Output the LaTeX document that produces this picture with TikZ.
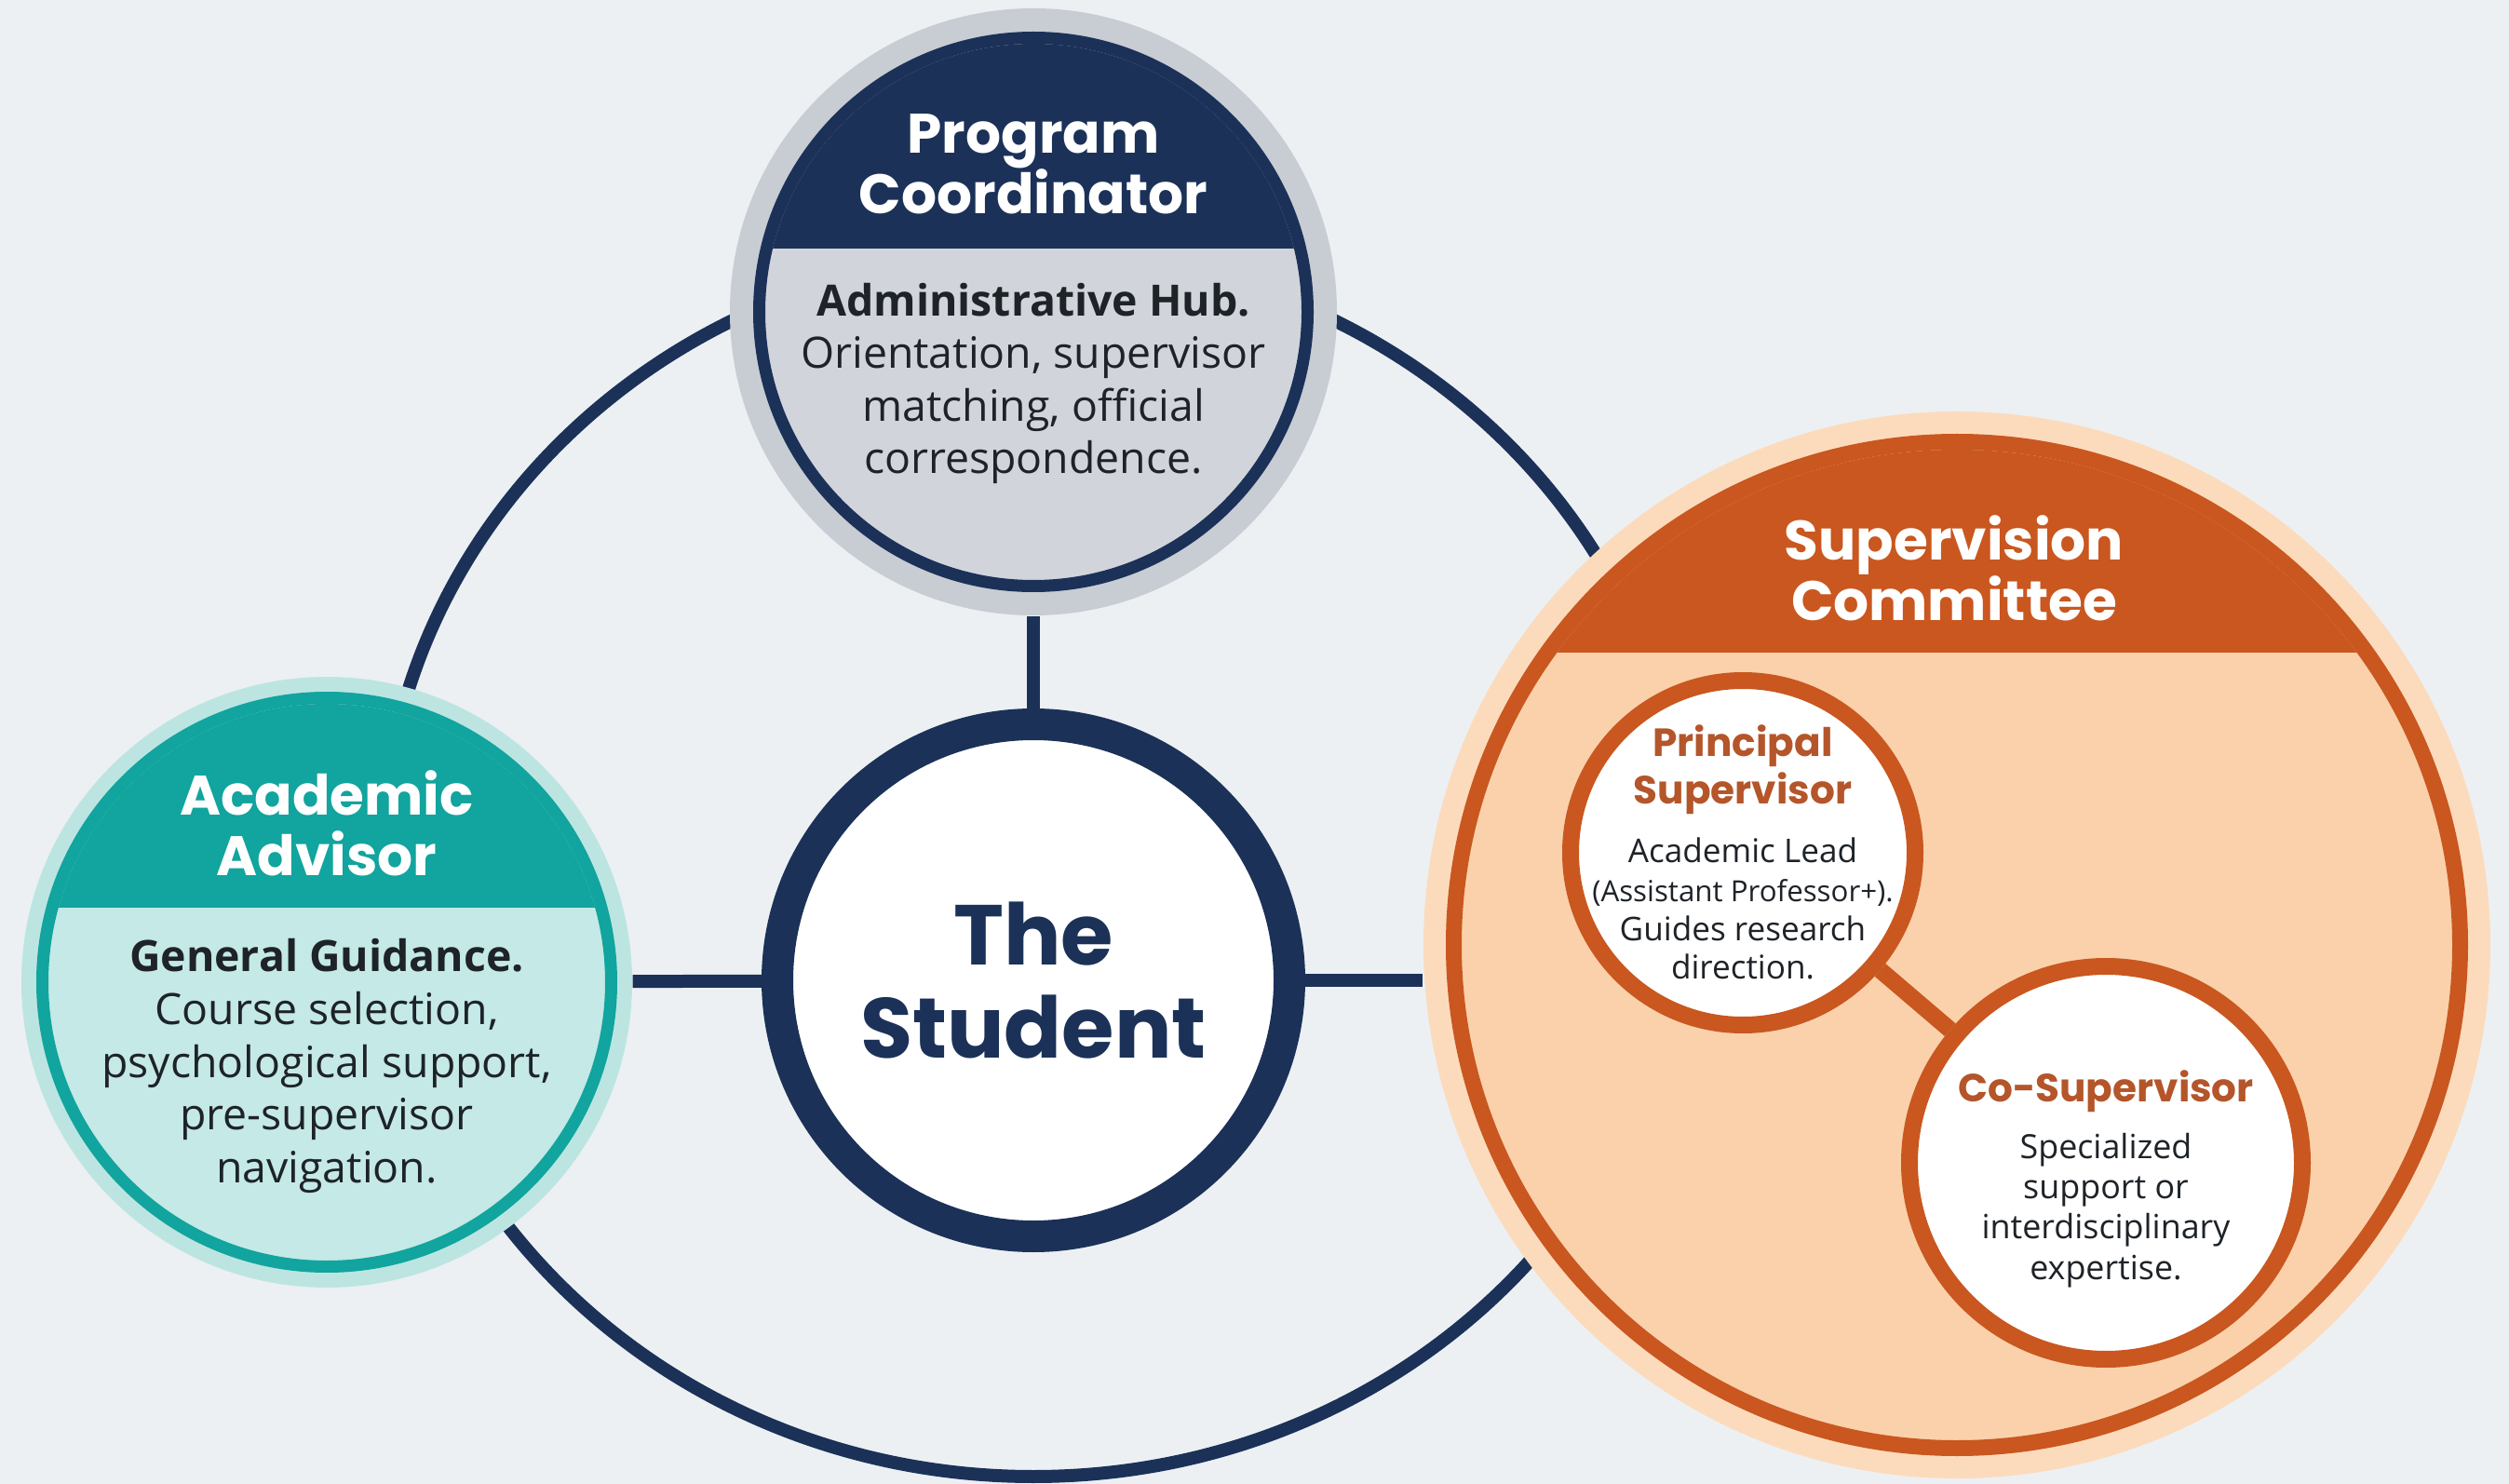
\documentclass[tikz,border=0pt]{standalone}
\usepackage{fontspec}
\setmainfont{Open Sans}
\newfontfamily\headfont{Poppins}

\definecolor{bg}{HTML}{ECF0F3}
\definecolor{navy}{HTML}{1B3158}
\definecolor{pcgray}{HTML}{D1D5DB}
\definecolor{pchalo}{HTML}{C8CCD3}
\definecolor{teal}{HTML}{12A49E}
\definecolor{teallight}{HTML}{C4E9E6}
\definecolor{tealhalo}{HTML}{BCE5E2}
\definecolor{rust}{HTML}{C9571F}
\definecolor{peach}{HTML}{FAD1AB}
\definecolor{peachhalo}{HTML}{FCDBBC}
\definecolor{rusttext}{HTML}{B4552A}
\definecolor{ink}{HTML}{1E2328}

\begin{document}
\begin{tikzpicture}[
  halo/.style={circle, inner sep=0pt, minimum size=#1},
  spoke/.style={navy, line width=0.14cm},
  headtext/.style={font=\headfont\bfseries\fontsize{17}{18.6}\selectfont, text=white, align=center},
  bodytext/.style={font=\fontsize{13.2}{16.1}\selectfont, text=ink, align=center},
  subhead/.style={font=\headfont\bfseries\fontsize{12}{14.5}\selectfont, text=rusttext, align=center},
  subtext/.style={font=\fontsize{10}{11.9}\selectfont, text=ink, align=center},
]
% backdrop
\fill[bg] (0,0) rectangle (26.95,-15.94);
\useasboundingbox (0,0) rectangle (26.95,-15.94);

% loop that ties the roles together
\draw[navy, line width=0.14cm] (11.10,-9.28) ellipse [x radius=7.00, y radius=6.58];

% Program Coordinator
\node[halo=6.52cm, fill=pchalo] (coord) at (11.10,-3.35) {};
\begin{scope}[shift={(coord.center)}]
  \clip (0,0) circle (2.88);
  \fill[pcgray] (-3,3) rectangle (3,-3);
  \fill[navy] (-3,3) rectangle (3,0.68);
\end{scope}
\draw[navy, line width=0.13cm] (coord.center) circle (2.945);
\node[headtext] (coordtitle) at (11.10,-1.76) {Program\\Coordinator};
\node[bodytext] (coordtext) at (11.10,-4.12) {\textbf{Administrative Hub.}\\Orientation, supervisor\\matching, official\\correspondence.};

% Academic Advisor
\node[halo=6.56cm, fill=tealhalo] (advisor) at (3.51,-10.55) {};
\begin{scope}[shift={(advisor.center)}]
  \clip (0,0) circle (2.99);
  \fill[teallight] (-3.1,3.1) rectangle (3.1,-3.1);
  \fill[teal] (-3.1,3.1) rectangle (3.1,0.80);
\end{scope}
\draw[teal, line width=0.13cm] (advisor.center) circle (3.055);
\node[headtext] (advisortitle) at (3.51,-8.84) {Academic\\Advisor};
\node[bodytext] (advisortext) at (3.51,-11.45) {\textbf{General Guidance.}\\Course selection,\\psychological support,\\pre-supervisor\\navigation.};

% The Student
\node[circle, draw=navy, line width=0.34cm, fill=white, minimum size=5.5cm, inner sep=0pt,
  font=\headfont\bfseries\fontsize{26}{28.5}\selectfont, text=navy, align=center] (student) at (11.10,-10.53) {The\\Student};

% Supervision Committee
\node[halo=11.46cm, fill=peachhalo] (committee) at (21.02,-10.15) {};
\begin{scope}[shift={(committee.center)}]
  \clip (0,0) circle (5.32);
  \fill[peach] (-5.4,5.4) rectangle (5.4,-5.4);
  \fill[rust] (-5.4,5.4) rectangle (5.4,3.14);
\end{scope}
\draw[rust, line width=0.17cm] (committee.center) circle (5.405);
\node[headtext] (committeetitle) at (20.99,-6.10) {Supervision\\Committee};

% supervisors inside the committee
\node[circle, draw=rust, line width=0.18cm, fill=white, minimum size=3.70cm, inner sep=0pt] (principal) at (18.72,-9.16) {};
\node[circle, draw=rust, line width=0.18cm, fill=white, minimum size=4.22cm, inner sep=0pt] (cosup) at (22.62,-12.49) {};
\draw[rust, line width=0.18cm] (principal) -- (cosup);
\node[subhead] (principaltitle) at (18.72,-8.27) {Principal\\Supervisor};
\node[subtext] (principaltext) at (18.72,-9.76) {Academic Lead\\{\fontsize{8.9}{11.9}\selectfont(Assistant Professor+).}\\Guides research\\direction.};
\node[subhead] (cosuptitle) at (22.62,-11.72) {Co-Supervisor};
\node[subtext, font=\fontsize{10.2}{12.3}\selectfont] (cosuptext) at (22.62,-13.00) {Specialized\\support or\\interdisciplinary\\expertise.};

% spokes to the student
\foreach \from/\to in {coord/student, advisor/student}
  \draw[spoke] (\from) -- (\to);
\draw[spoke] (student.east) -- (committee.west |- student.east);
\end{tikzpicture}
\end{document}
